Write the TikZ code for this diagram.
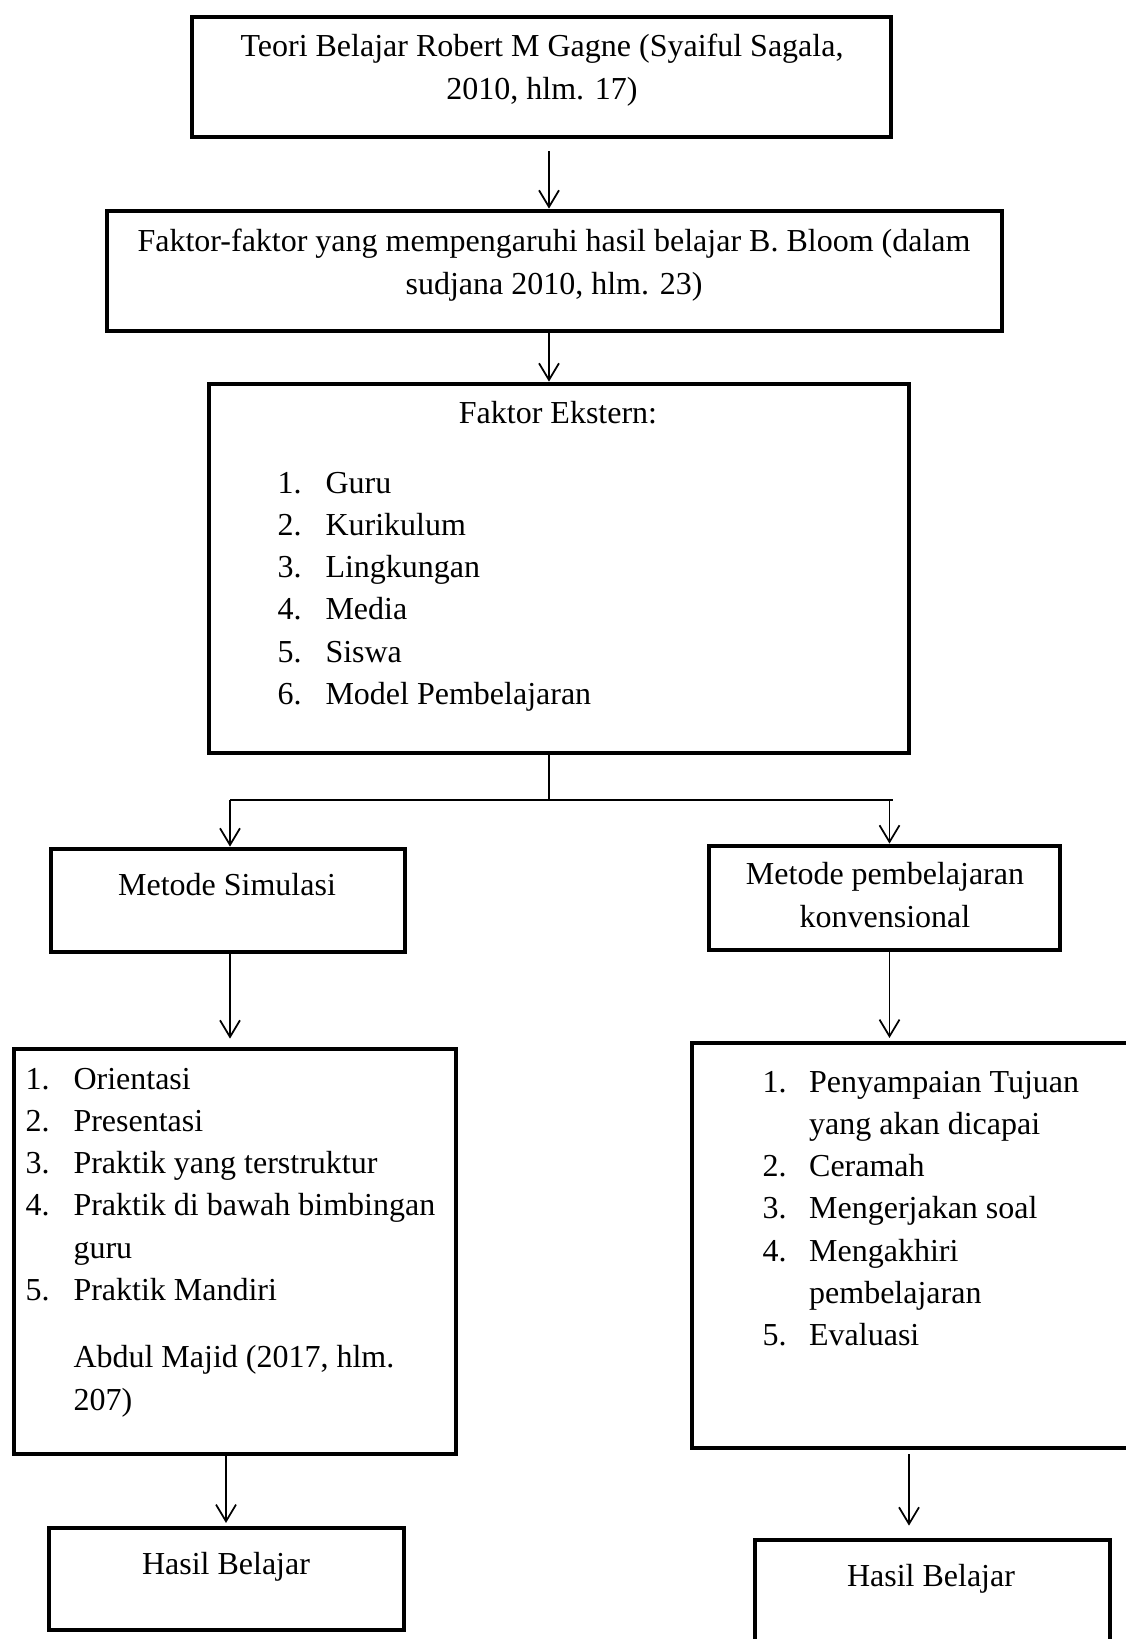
\documentclass[tikz,border=0pt]{standalone}
\usepackage{fontspec}
\setmainfont{Liberation Serif}
\usetikzlibrary{arrows.meta,fit}

\tikzset{every picture/.style={line width=0.75pt}}
\tikzset{
  kotak/.style={draw, line width=3.6pt, inner sep=0pt},
  panah/.style={line width=1.3pt, -{Straight Barb[length=12.5pt,width=15pt]}},
  garis/.style={line width=1.1pt},
  teks/.style={inner sep=0pt, font=\fontsize{24}{31.7}\selectfont}
}

\begin{document}
\begin{tikzpicture}[x=0.75pt,y=0.75pt,yscale=-1,xscale=1]
%set diagram left start at 0, and has height of 1639
\useasboundingbox (0,0) rectangle (1125,1639);

%Shape: Rectangle
\node [kotak, fit={(192,17) (891,137)}] (teori) {};
%Shape: Rectangle
\node [kotak, fit={(107,211) (1002,331)}] (faktor) {};
%Shape: Rectangle
\node [kotak, fit={(209,384) (909,753)}] (ekstern) {};
%Shape: Rectangle
\node [kotak, fit={(51,849) (405,952)}] (simulasi) {};
%Shape: Rectangle
\node [kotak, fit={(709,846) (1060,950)}] (konven) {};
%Shape: Rectangle
\node [kotak, fit={(14,1049) (456,1454)}] (simlangkah) {};
%Shape: Rectangle
\node [kotak, fit={(692,1043) (1145,1448)}] (konlangkah) {};
%Shape: Rectangle
\node [kotak, fit={(49,1528) (404,1630)}] (hasilsim) {};
%Shape: Rectangle
\node [kotak, fit={(755,1540) (1110,1665)}] (hasilkon) {};

\coordinate (poros) at (549,0);
\coordinate (cabang) at (549,800);
\coordinate (cabangkiri) at (230,800);
\coordinate (cabangkanan) at (889.5,800);
\coordinate (ujungkanan) at (892.5,800);
\coordinate (jalurkiri) at (226,0);
\coordinate (jalurkanan) at (909,0);

%Straight Lines
\draw [panah, shorten <=9pt] (teori.south -| poros) -- (faktor.north -| poros);
%Straight Lines
\draw [panah] (faktor.south -| poros) -- (ekstern.north -| poros);
%Straight Lines
\draw [garis] (ekstern.south -| poros) -- (cabang);
\draw [garis] (cabangkiri) -- (ujungkanan);
%Straight Lines
\draw [panah] (cabangkiri) -- (simulasi.north -| cabangkiri);
\draw [panah] (cabangkanan) -- (konven.north -| cabangkanan);
%Straight Lines
\draw [panah, shorten >=6pt] (simulasi.south -| cabangkiri) -- (simlangkah.north -| cabangkiri);
\draw [panah, shorten >=2pt] (konven.south -| cabangkanan) -- (konlangkah.north -| cabangkanan);
%Straight Lines
\draw [panah, shorten >=2pt] (simlangkah.south -| jalurkiri) -- (hasilsim.north -| jalurkiri);
\draw [panah, shorten <=3pt, shorten >=9pt] (konlangkah.south -| jalurkanan) -- (hasilkon.north -| jalurkanan);

% Text Node
\node [teks, anchor=base, align=center] (judulteori) at (542,99) {Teori Belajar Robert M Gagne (Syaiful Sagala,\\2010, hlm. 17)};
% Text Node
\node [teks, anchor=base, align=center] (judulfaktor) at (554,294) {Faktor-faktor yang mempengaruhi hasil belajar B. Bloom (dalam\\sudjana 2010, hlm. 23)};
% Text Node
\node [teks, anchor=base] (judulekstern) at (558,423) {Faktor Ekstern:};
% Text Node
\node [teks, anchor=base west] (daftarekstern) at (277,493) {\begin{tabular}[t]{@{}p{36pt}@{}l@{}}
1. & Guru\\
2. & Kurikulum\\
3. & Lingkungan\\
4. & Media\\
5. & Siswa\\
6. & Model Pembelajaran
\end{tabular}};
% Text Node
\node [teks, anchor=base] (judulsimulasi) at (227,895) {Metode Simulasi};
% Text Node
\node [teks, anchor=base, align=center] (judulkonven) at (885,927) {Metode pembelajaran\\konvensional};
% Text Node
\node [teks, anchor=base west] (daftarsimulasi) at (25,1089) {\begin{tabular}[t]{@{}p{36pt}@{}l@{}}
1. & Orientasi\\
2. & Presentasi\\
3. & Praktik yang terstruktur\\
4. & Praktik di bawah bimbingan\\
   & guru\\
5. & Praktik Mandiri\\[19pt]
   & Abdul Majid (2017, hlm.\\
   & 207)
\end{tabular}};
% Text Node
\node [teks, anchor=base west] (daftarkonven) at (762,1092) {\begin{tabular}[t]{@{}p{35pt}@{}l@{}}
1. & Penyampaian Tujuan\\
   & yang akan dicapai\\
2. & Ceramah\\
3. & Mengerjakan soal\\
4. & Mengakhiri\\
   & pembelajaran\\
5. & Evaluasi
\end{tabular}};
% Text Node
\node [teks, anchor=base] (hasilkiri) at (226,1574) {Hasil Belajar};
% Text Node
\node [teks, anchor=base] (hasilkanan) at (931,1586) {Hasil Belajar};
\end{tikzpicture}
\end{document}
